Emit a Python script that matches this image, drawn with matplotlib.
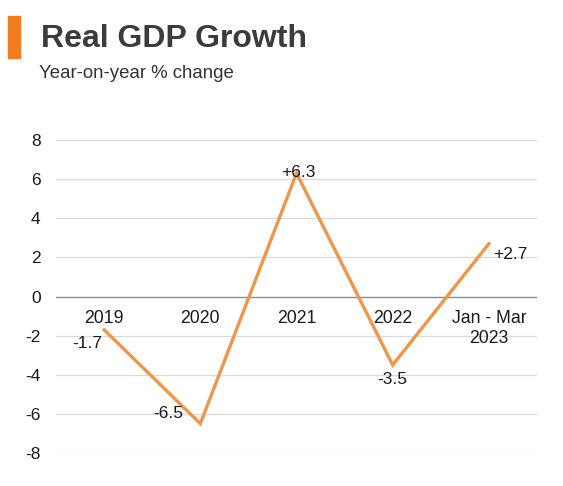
import matplotlib.pyplot as plt
from matplotlib.patches import Rectangle

plt.rcParams['font.family'] = ['Liberation Sans', 'DejaVu Sans']

# Data
periods = ['2019', '2020', '2021', '2022', 'Jan - Mar\n2023']
growth = [-1.7, -6.5, 6.3, -3.5, 2.7]
point_labels = ['-1.7', '-6.5', '+6.3', '-3.5', '+2.7']
yticks = [8, 6, 4, 2, 0, -2, -4, -6, -8]

# label offsets in pixels (dx, dy) relative to each point
offsets = [(-17, -14), (-32, 10), (2, 1), (0, -15), (21, -11)]

fig = plt.figure(figsize=(5.63, 4.86), dpi=100)
ax = fig.add_axes([56 / 563, 1 - 453 / 486, (537 - 56) / 563, (453 - 140) / 486])

x = list(range(len(periods)))
ax.plot(x, growth, color='#F0964A', lw=2.4, solid_joinstyle='miter', zorder=3)

ax.set_xlim(-0.5, len(periods) - 0.5)
ax.set_ylim(-8, 8)
ax.set_yticks(yticks)
ax.set_yticklabels([str(t) for t in yticks], fontsize=12.5, color='#1a1a1a')
ax.tick_params(axis='y', length=0, pad=11)
ax.set_xticks([])
for s in ax.spines.values():
    s.set_visible(False)

for t in yticks:
    if t == 0:
        ax.axhline(0, color='#8c8c8c', lw=1.0, zorder=2)
    else:
        ax.axhline(t, color='#d9d9d9', lw=0.9, zorder=1)

# category labels just under the zero line
for xi, p in zip(x, periods):
    ax.annotate(p, (xi, 0), xytext=(0, -13), textcoords='offset pixels',
                ha='center', va='top', fontsize=12.7, color='#1a1a1a',
                linespacing=1.3)

# value labels
for xi, v, lab, (dx, dy) in zip(x, growth, point_labels, offsets):
    ax.annotate(lab, (xi, v), xytext=(dx, dy), textcoords='offset pixels',
                ha='center', va='center', fontsize=12.5, color='#1a1a1a', zorder=4)

# header
fig.patches.append(Rectangle((8 / 563, 1 - 58 / 486), 12 / 563, 42 / 486,
                             transform=fig.transFigure, color='#F47C20'))
fig.text(41 / 563, 1 - 39 / 486, 'Real GDP Growth', fontsize=23, fontweight='bold',
         color='#3b3b3b', va='center', ha='left')
fig.text(39 / 563, 1 - 73 / 486, 'Year-on-year % change', fontsize=13.4,
         color='#333333', va='center', ha='left')

fig.savefig('out.png', dpi=100)
